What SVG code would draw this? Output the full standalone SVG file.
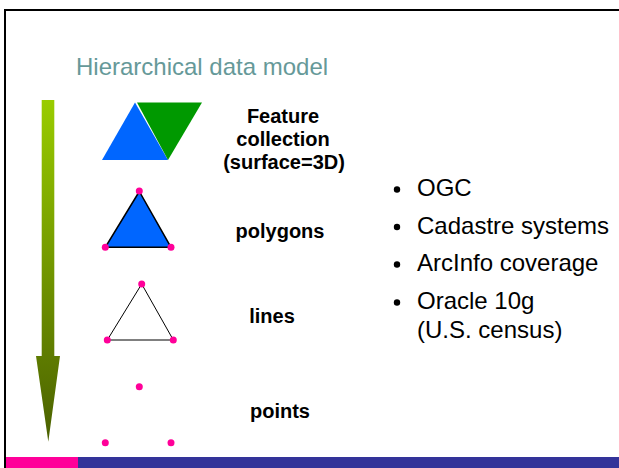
<svg xmlns="http://www.w3.org/2000/svg" width="619" height="468" viewBox="0 0 619 468">
<style>
.lbl{font-family:"Liberation Sans",Arial,sans-serif;font-weight:bold;font-size:20px;fill:#000;text-anchor:middle}
.bul{font-family:"Liberation Sans",Arial,sans-serif;font-size:24px;fill:#000}
.dot{fill:#ff0099}
</style>
<defs>
<linearGradient id="g" x1="0" y1="100" x2="0" y2="442" gradientUnits="userSpaceOnUse">
<stop offset="0" stop-color="#99cc00"/>
<stop offset="1" stop-color="#4a6000"/>
</linearGradient>
</defs>
<rect width="619" height="468" fill="#fff"/>
<path d="M5,468 V10 H619" fill="none" stroke="#000" stroke-width="2"/>
<rect x="6" y="457" width="72" height="11" fill="#ff0099"/>
<rect x="78" y="457" width="541" height="11" fill="#333399"/>
<text x="76" y="75" font-family="'Liberation Sans',Arial,sans-serif" font-size="24" fill="#669999">Hierarchical data model</text>
<g id="arrow">
<path d="M41.7,100 H54.3 V356 H60 L48.3,441.7 L36,356 H41.7 Z" fill="url(#g)"/>
</g>
<g id="feature">
<polygon points="102,160 135,102.5 168,160" fill="#0066ff"/>
<polygon points="137,102.5 202,102.5 168,160" fill="#009900"/>
<text class="lbl" x="283" y="123">Feature</text>
<text class="lbl" x="283" y="146">collection</text>
<text class="lbl" x="284" y="169">(surface=3D)</text>
</g>
<g id="polygons">
<polygon points="139.3,191.5 105.3,247.3 171,247.3" fill="#0066ff" stroke="#000" stroke-width="1.5"/>
<circle class="dot" cx="139.3" cy="191" r="3.5"/>
<circle class="dot" cx="105.3" cy="247.3" r="3.5"/>
<circle class="dot" cx="171" cy="247.3" r="3.5"/>
<text class="lbl" x="280" y="238">polygons</text>
</g>
<g id="lines">
<polygon points="141.7,284 107.3,340 173.3,340" fill="none" stroke="#000" stroke-width="1"/>
<circle class="dot" cx="141.7" cy="284" r="3.5"/>
<circle class="dot" cx="107.3" cy="340" r="3.5"/>
<circle class="dot" cx="173.3" cy="340" r="3.5"/>
<text class="lbl" x="272" y="323">lines</text>
</g>
<g id="points">
<circle class="dot" cx="139.3" cy="386.7" r="3.5"/>
<circle class="dot" cx="105.3" cy="442.7" r="3.5"/>
<circle class="dot" cx="171" cy="442.7" r="3.5"/>
<text class="lbl" x="280" y="418">points</text>
</g>
<g id="bullets">
<circle cx="397" cy="189.5" r="3.2" fill="#000"/>
<text class="bul" x="417" y="196">OGC</text>
<circle cx="397" cy="227" r="3.2" fill="#000"/>
<text class="bul" x="417" y="234">Cadastre systems</text>
<circle cx="397" cy="264.5" r="3.2" fill="#000"/>
<text class="bul" x="417" y="271">ArcInfo coverage</text>
<circle cx="397" cy="302.5" r="3.2" fill="#000"/>
<text class="bul" x="417" y="309">Oracle 10g</text>
<text class="bul" x="417" y="338">(U.S. census)</text>
</g>
<g id="connectors"/>
</svg>
